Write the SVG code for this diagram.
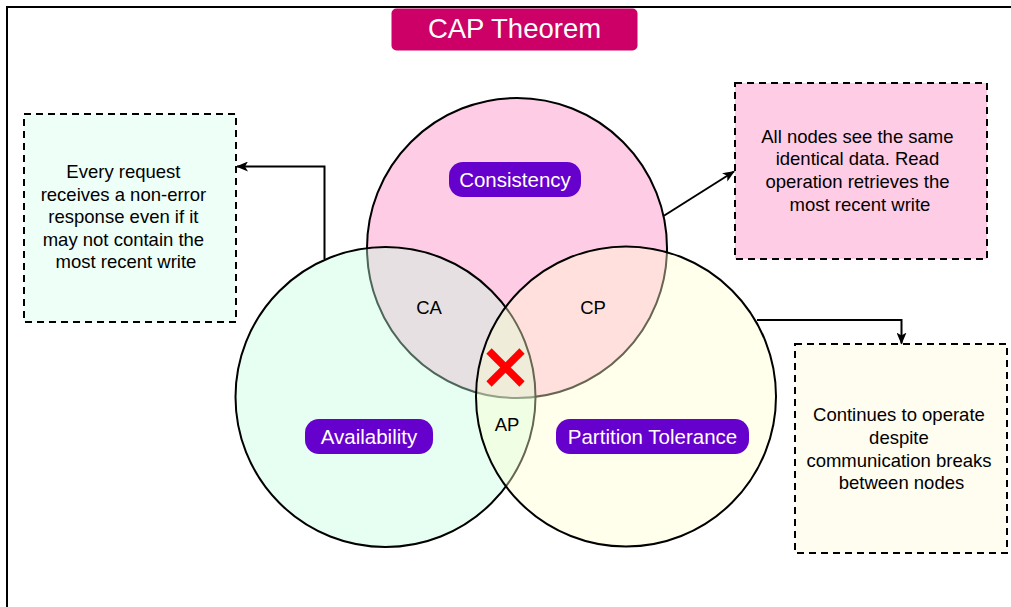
<svg xmlns="http://www.w3.org/2000/svg" width="1011" height="607" viewBox="0 0 1011 607">
  <style>
    .txt { font-family: "Liberation Sans", Arial, Helvetica, sans-serif; fill: #000; text-anchor: middle; }
    .body { font-size: 18.5px; }
    .pill { fill: #6600CC; }
    .pilltxt { font-family: "Liberation Sans", Arial, Helvetica, sans-serif; font-size: 20.5px; fill: #fff; text-anchor: middle; }
    .note { stroke: #000; stroke-width: 2; stroke-dasharray: 7 5; }
    .ring { stroke: #000; stroke-width: 2; }
    .conn { fill: none; stroke: #000; stroke-width: 2; }
  </style>
  <defs>
    <marker id="arrow" viewBox="0 0 12 10" refX="11" refY="5" markerWidth="12" markerHeight="10" markerUnits="userSpaceOnUse" orient="auto">
      <path d="M0,0 L12,5 L0,10 L3,5 z" fill="#000"/>
    </marker>
  </defs>

  <rect width="1011" height="607" fill="#fff"/>

  <!-- outer frame (runs past the right and bottom edges) -->
  <path d="M7,620 L7,7 L1020,7" fill="none" stroke="#000" stroke-width="2"/>

  <!-- title -->
  <g id="title">
    <rect x="391.5" y="8.5" width="246" height="42" rx="5" fill="#CC0066"/>
    <text x="514.5" y="38" font-family="Liberation Sans, Arial, sans-serif" font-size="27.5" fill="#fff" text-anchor="middle">CAP Theorem</text>
  </g>

  <!-- Venn circles: consistency opaque, the others semi-transparent fills -->
  <g id="consistency">
    <circle cx="517" cy="248" r="150" fill="#FFCCE6" class="ring"/>
  </g>
  <g id="availability">
    <circle cx="385.5" cy="397" r="150" fill="#C0FFDE" fill-opacity="0.4" class="ring"/>
  </g>
  <g id="partition-tolerance">
    <circle cx="626" cy="396.5" r="150" fill="#FFFFCD" fill-opacity="0.4" class="ring"/>
  </g>

  <!-- region labels -->
  <g id="label-ca"><text class="txt body" x="429" y="314">CA</text></g>
  <g id="label-cp"><text class="txt body" x="593" y="314">CP</text></g>
  <g id="label-ap"><text class="txt body" x="507" y="431">AP</text></g>

  <!-- impossible centre -->
  <g id="red-x" stroke="#FF0000" stroke-width="7.5">
    <line x1="489" y1="351" x2="522" y2="384"/>
    <line x1="522" y1="351" x2="489" y2="384"/>
  </g>

  <!-- property pills -->
  <g id="pill-consistency">
    <rect class="pill" x="449" y="162" width="132" height="35" rx="14"/>
    <text class="pilltxt" x="515" y="187">Consistency</text>
  </g>
  <g id="pill-availability">
    <rect class="pill" x="305" y="419" width="128" height="35" rx="14"/>
    <text class="pilltxt" x="369" y="444">Availability</text>
  </g>
  <g id="pill-partition">
    <rect class="pill" x="556" y="419" width="193" height="35" rx="14"/>
    <text class="pilltxt" x="652.5" y="444">Partition Tolerance</text>
  </g>

  <!-- description notes -->
  <g id="note-availability">
    <rect class="note" x="24" y="114" width="212" height="208" fill="#EEFFF7"/>
    <text class="txt body" x="126">
      <tspan x="126" y="178">Every request</tspan>
      <tspan x="126" y="200.5">receives a non-error</tspan>
      <tspan x="126" y="223">response even if it</tspan>
      <tspan x="126" y="245.5">may not contain the</tspan>
      <tspan x="126" y="268">most recent write</tspan>
    </text>
  </g>
  <g id="note-consistency">
    <rect class="note" x="735" y="83" width="252" height="176" fill="#FFCCE6"/>
    <text class="txt body" x="860">
      <tspan x="860" y="142.5">All nodes see the same</tspan>
      <tspan x="860" y="165">identical data. Read</tspan>
      <tspan x="860" y="188">operation retrieves the</tspan>
      <tspan x="860" y="210.5">most recent write</tspan>
    </text>
  </g>
  <g id="note-partition">
    <rect class="note" x="795" y="344" width="212" height="209" fill="#FEFDF0"/>
    <text class="txt body" x="901.5">
      <tspan x="901.5" y="421">Continues to operate</tspan>
      <tspan x="901.5" y="443.5">despite</tspan>
      <tspan x="901.5" y="466.5">communication breaks</tspan>
      <tspan x="901.5" y="489">between nodes</tspan>
    </text>
  </g>

  <!-- connectors -->
  <g id="connectors">
    <path class="conn" d="M324.5,259 L324.5,166.5 L237,166.5" marker-end="url(#arrow)"/>
    <path class="conn" d="M663.5,216 L734,171.5" marker-end="url(#arrow)"/>
    <path class="conn" d="M757,320 L901.5,320 L901.5,343.5" marker-end="url(#arrow)"/>
  </g>
</svg>
